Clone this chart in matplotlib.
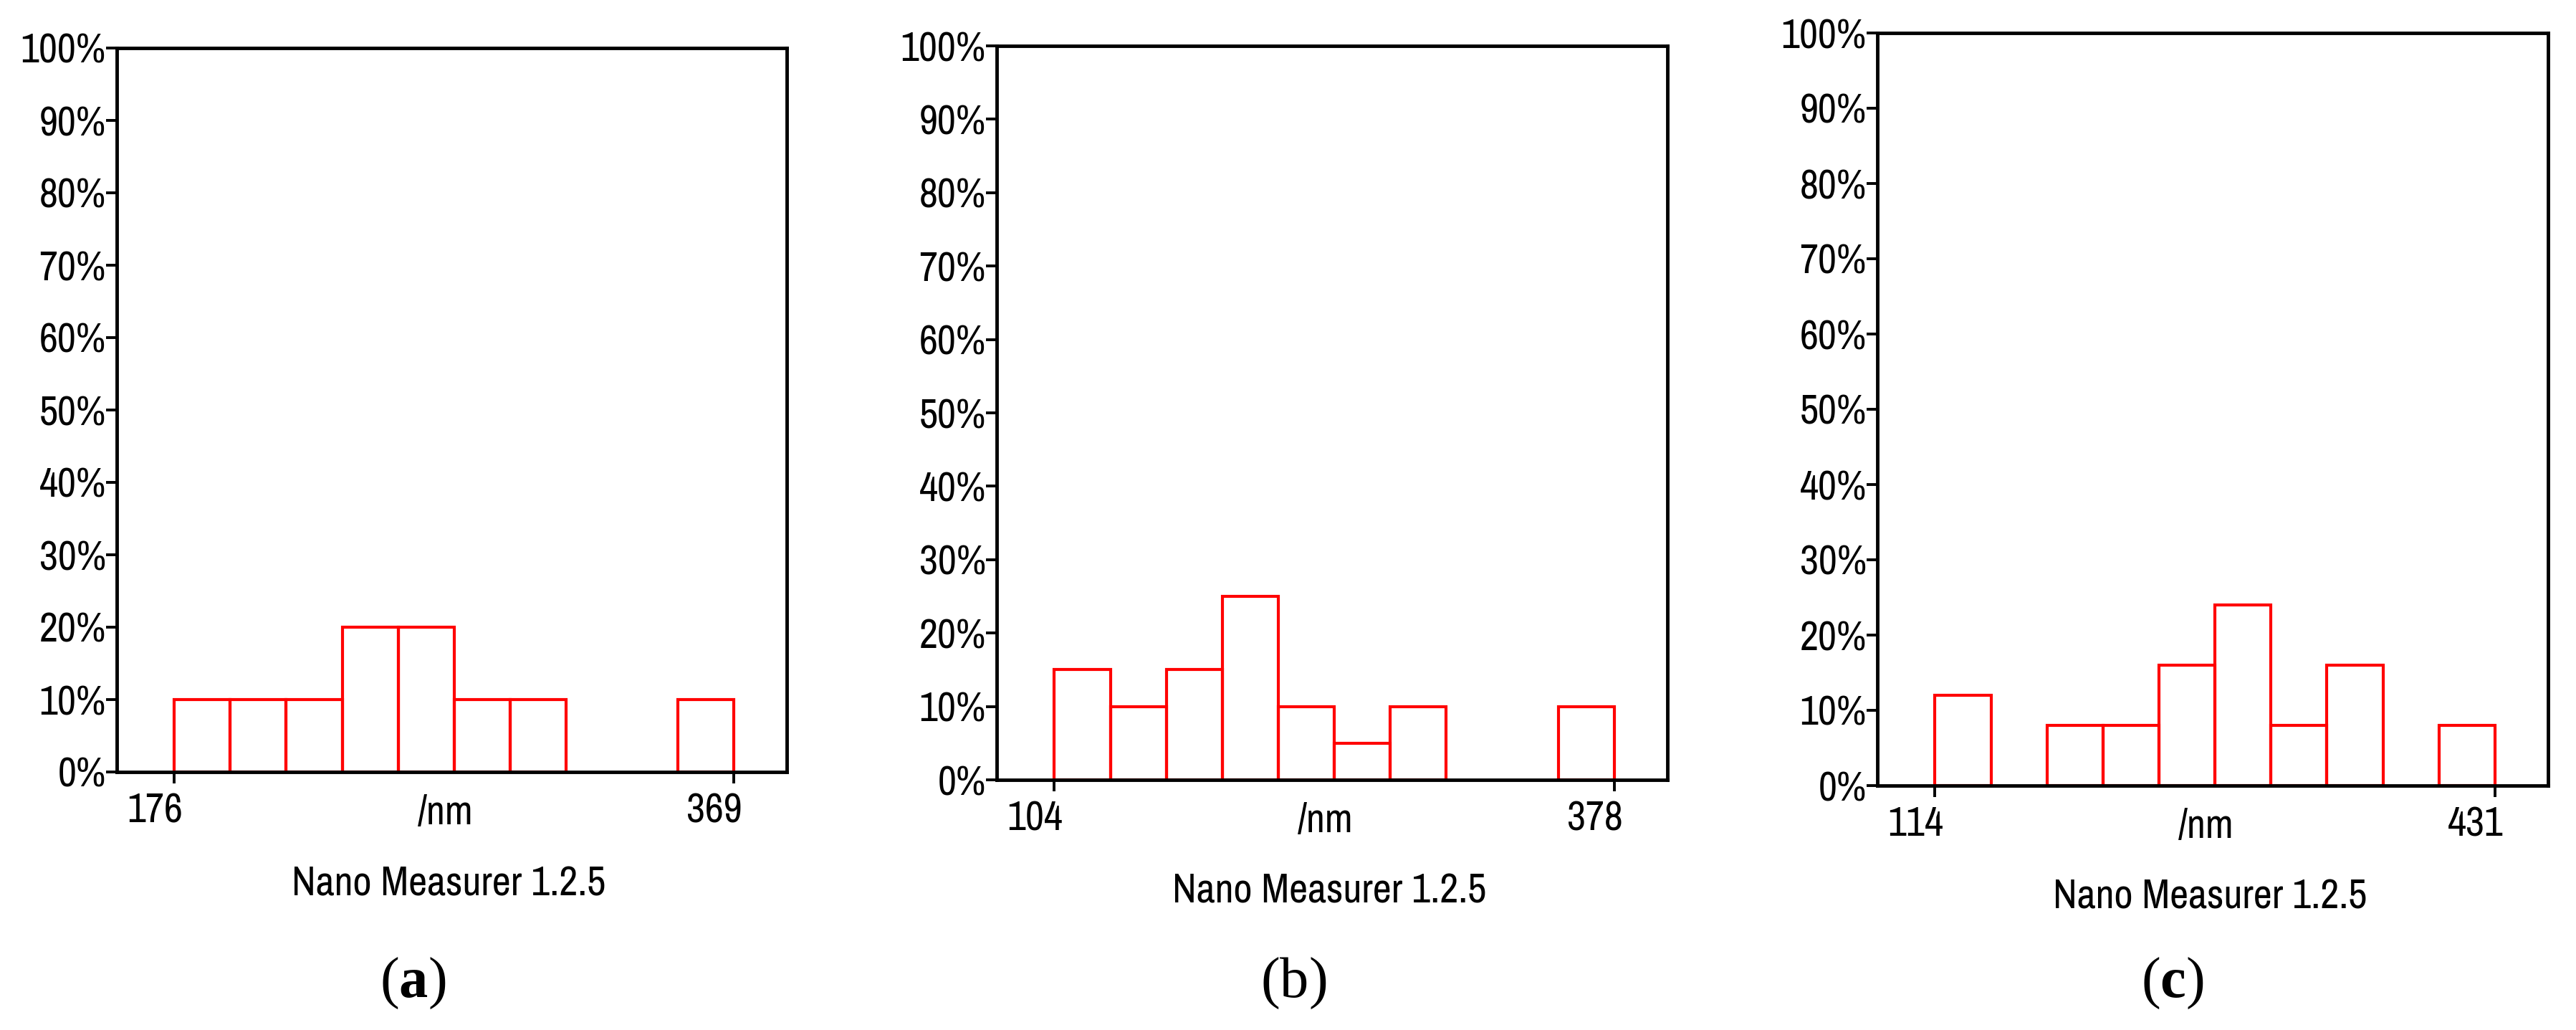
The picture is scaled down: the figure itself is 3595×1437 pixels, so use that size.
import matplotlib
matplotlib.use('Agg')
import matplotlib.pyplot as plt
import numpy as np
from matplotlib.transforms import ScaledTranslation

plt.rcParams['font.family'] = ['Archivo Narrow', 'Liberation Sans', 'DejaVu Sans']
plt.rcParams['mathtext.fontset'] = 'custom'
plt.rcParams['mathtext.rm'] = 'Liberation Serif'
plt.rcParams['mathtext.bf'] = 'Liberation Serif:bold'

# ---- data ----
panel_labels = ['a', 'b', 'c']
range_a = [176, 369]
range_b = [104, 378]
range_c = [114, 431]
pct_a = [10, 10, 10, 20, 20, 10, 10, 0, 0, 10]
pct_b = [15, 10, 15, 25, 10, 5, 10, 0, 0, 10]
pct_c = [12, 0, 8, 8, 16, 24, 8, 16, 0, 8]
y_ticks = [0, 10, 20, 30, 40, 50, 60, 70, 80, 90, 100]
y_ticklabels = [f'{v}%' for v in y_ticks]
unit_label = '/nm'
software_label = 'Nano Measurer 1.2.5'

W, H = 3595, 1437
DPI = 100
fig = plt.figure(figsize=(W / DPI, H / DPI), dpi=DPI)

# axes boxes in pixels: left, right, top, bottom
boxes = [(163, 1098, 67, 1077), (1391, 2327, 64, 1088), (2620, 3556, 46, 1096)]
label_x = [576, 1805, 3032]
label_bold = [True, False, True]

ranges = [range_a, range_b, range_c]
pcts = [pct_a, pct_b, pct_c]

FS = 41
PT = 72 / DPI
for i in range(3):
    l, r, t, b = boxes[i]
    ax = fig.add_axes([l / W, 1 - b / H, (r - l) / W, (b - t) / H])
    lo, hi = ranges[i]
    vals = np.array(pcts[i], dtype=float)
    edges = np.linspace(lo, hi, len(vals) + 1)
    w = edges[1] - edges[0]
    mask = vals > 0
    ax.bar(edges[:-1][mask], vals[mask], width=w, align='edge', fill=False,
           edgecolor='#ff0000', linewidth=3.0, zorder=2)
    span = hi - lo
    ax.set_xlim(lo - 0.103 * span, hi + 0.095 * span)
    ax.set_ylim(0, 100)
    for s in ax.spines.values():
        s.set_linewidth(3.5)
        s.set_color('black')
        s.set_zorder(3)
    ax.set_yticks(y_ticks)
    ax.set_yticklabels(y_ticklabels, fontsize=FS)
    ax.set_xticks([lo, hi])
    ax.set_xticklabels([str(lo), str(hi)], fontsize=FS)
    ax.tick_params(axis='y', direction='out', length=11, width=2.8, pad=0)
    ax.tick_params(axis='x', direction='out', length=11.5, width=2.8, pad=9)
    for lab in ax.get_xticklabels():
        lab.set_ha('right')
        lab.set_transform(lab.get_transform() + ScaledTranslation(12 / DPI, 0, fig.dpi_scale_trans))
    ax.annotate(unit_label, xy=(0.5, 0), xycoords='axes fraction',
                xytext=(-9 * PT, -57 * PT), textcoords='offset points',
                ha='center', va='center', fontsize=FS)
    ax.annotate(software_label, xy=(0.5, 0), xycoords='axes fraction',
                xytext=(-4 * PT, -156 * PT), textcoords='offset points',
                ha='center', va='center', fontsize=FS)
    letter = panel_labels[i]
    txt = r'($\mathbf{' + letter + r'}$)' if label_bold[i] else r'($\mathrm{' + letter + r'}$)'
    fig.text(label_x[i] / W, 1 - 1372 / H, txt, ha='center', va='center',
             fontsize=58, family='Liberation Serif')

fig.savefig('out.png', dpi=DPI)
